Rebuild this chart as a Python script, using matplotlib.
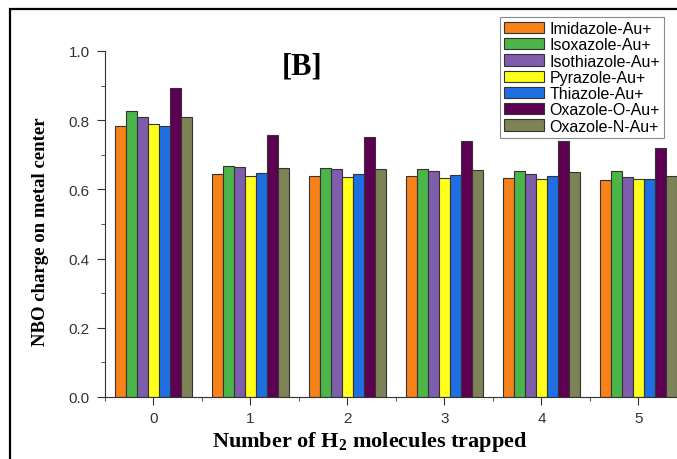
import numpy as np
import matplotlib
matplotlib.use("Agg")
import matplotlib.pyplot as plt
from matplotlib.patches import Rectangle
from matplotlib.ticker import MultipleLocator

plt.rcParams['mathtext.fontset'] = 'custom'
plt.rcParams['mathtext.rm'] = 'Liberation Serif:bold'
plt.rcParams['mathtext.bf'] = 'Liberation Serif:bold'

# Data
h2_counts = [0, 1, 2, 3, 4, 5]
series_names = ["Imidazole-Au+", "Isoxazole-Au+", "Isothiazole-Au+", "Pyrazole-Au+",
                "Thiazole-Au+", "Oxazole-O-Au+", "Oxazole-N-Au+"]
imidazole = [0.782, 0.644, 0.640, 0.638, 0.633, 0.627]
isoxazole = [0.827, 0.667, 0.662, 0.659, 0.654, 0.653]
isothiazole = [0.808, 0.664, 0.658, 0.654, 0.645, 0.635]
pyrazole = [0.789, 0.640, 0.637, 0.634, 0.629, 0.630]
thiazole = [0.783, 0.648, 0.645, 0.643, 0.639, 0.631]
oxazole_o = [0.892, 0.757, 0.751, 0.741, 0.739, 0.721]
oxazole_n = [0.810, 0.661, 0.658, 0.656, 0.649, 0.640]
series = [imidazole, isoxazole, isothiazole, pyrazole, thiazole, oxazole_o, oxazole_n]
colors = ["#F8821A", "#4CB54A", "#7E5DAD", "#FFFF1C", "#1F6FE3", "#5E0052", "#7D8257"]

fig = plt.figure(figsize=(6.77, 4.6), dpi=100)

# outer frame (top and left edges visible)
fig.patches.append(Rectangle((10 / 677, -0.1), 1.2, 1 - 10 / 460 + 0.1,
                             transform=fig.transFigure, fill=False,
                             edgecolor="black", linewidth=1.6))

ax = fig.add_axes([105 / 677, 1 - 398 / 460, 577 / 677, 346 / 460])

x = np.arange(len(h2_counts))
w = 0.1134
for i, (vals, name, c) in enumerate(zip(series, series_names, colors)):
    ax.bar(x + (i - 3) * w, vals, w, color=c, edgecolor="#333333",
           linewidth=0.8, label=name)

ax.set_xlim(-0.5, 5.45)
ax.set_ylim(0, 1.0)
ax.set_xticks(x)
ax.set_xticklabels([str(v) for v in h2_counts])
ax.xaxis.set_minor_locator(MultipleLocator(0.5))
ax.yaxis.set_major_locator(MultipleLocator(0.2))
ax.yaxis.set_minor_locator(MultipleLocator(0.1))
ax.spines['top'].set_visible(False)
ax.spines['right'].set_visible(False)
for s in ['left', 'bottom']:
    ax.spines[s].set_color("#333333")
ax.tick_params(which='major', direction='out', length=6, color="#333333",
               labelsize=11, labelcolor="#333333", labelfontfamily="Liberation Sans")
ax.tick_params(which='minor', direction='out', length=3, color="#333333")
ax.tick_params(axis='y', pad=5)
ax.tick_params(axis='x', pad=4)

fig.text(41 / 677, 1 - 232 / 460, "NBO charge on metal center",
         family="Liberation Serif", fontweight="bold", fontsize=13.5,
         rotation=90, ha="center", va="center")
fig.text(370 / 677, 1 - 442 / 460, r"Number of H$_{2}$ molecules trapped",
         family="Liberation Serif", fontweight="bold", fontsize=16,
         ha="center", va="center")

fig.text(302 / 677, 1 - 67 / 460, "[B]", family="Liberation Serif",
         fontweight="bold", fontsize=22, ha="center", va="center")

leg = ax.legend(loc="upper right", bbox_to_anchor=(664 / 677, 1 - 18 / 460),
                bbox_transform=fig.transFigure, prop={"family": "Liberation Sans", "size": 11.5},
                handlelength=2.5, handleheight=0.72, labelspacing=0.08,
                handletextpad=0.35, borderpad=0.25, borderaxespad=0,
                fancybox=False, framealpha=1, edgecolor="#888888")
leg.get_frame().set_linewidth(0.8)

fig.savefig("out.png", dpi=100)
